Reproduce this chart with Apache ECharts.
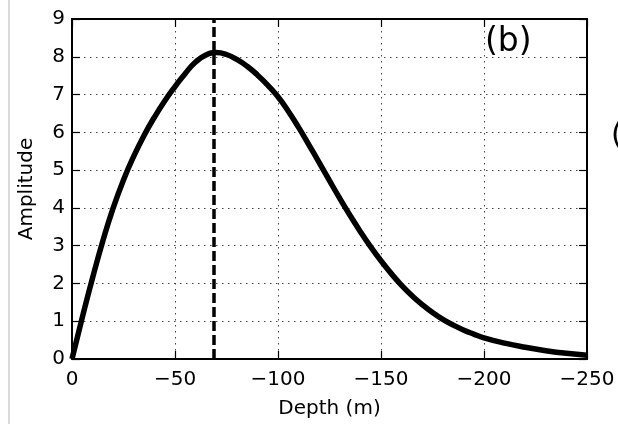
<!DOCTYPE html>
<html>
<head>
<meta charset="utf-8">
<script src="https://cdn.jsdelivr.net/npm/echarts@6/dist/echarts.min.js"></script>
<style>
html,body{margin:0;padding:0;background:#fff;}
#chart{width:618px;height:424px;}
</style>
</head>
<body>
<div id="chart"></div>
<script>
// Depth (m), negative downward
const depths = [0,-5,-10,-15,-20,-25,-30,-35,-40,-45,-50,-55,-60,-65,-70,-75,-80,-85,-90,-95,-100,-105,-110,-115,-120,-125,-130,-135,-140,-145,-150,-155,-160,-165,-170,-175,-180,-185,-190,-195,-200,-210,-220,-230,-240,-250];
const amplitudes = [0,1.1,2.15,3.13,4.0,4.74,5.37,5.92,6.4,6.83,7.21,7.56,7.86,8.05,8.11,8.06,7.93,7.75,7.52,7.25,6.94,6.56,6.13,5.67,5.2,4.72,4.25,3.8,3.37,2.97,2.6,2.26,1.95,1.68,1.44,1.23,1.05,0.9,0.77,0.66,0.56,0.42,0.31,0.22,0.15,0.1];
const peakDepth = -69;
const xTicks = [0,-50,-100,-150,-200,-250];
const yTicks = [0,1,2,3,4,5,6,7,8,9];
const panelLabel = '(b)';
const nextPanelLabel = '(c)';
const xName = 'Depth (m)';
const yName = 'Amplitude';

const seriesData = depths.map((d, i) => [d, amplitudes[i]]);
const fmt = v => String(v).replace('-', '\u2212');
const font = 'DejaVu Sans';
const grid = {left: 72, right: 31, top: 19, bottom: 61};
const dotted = {show: true, lineStyle: {color: '#444', width: 1, type: [1.5, 4.5]}};
const axLine = {show: true, onZero: false, lineStyle: {color: '#000', width: 2}};
const tickIn = {show: true, inside: true, length: 8, lineStyle: {color: '#000', width: 1.2}};

const chart = echarts.init(document.getElementById('chart'), null, {renderer: 'canvas'});
chart.setOption({
  animation: false,
  backgroundColor: '#fff',
  grid: grid,
  xAxis: [{
    type: 'value', min: -250, max: 0, interval: 50, inverse: true, position: 'bottom',
    name: xName, nameLocation: 'middle', nameGap: 40,
    nameTextStyle: {fontFamily: font, fontSize: 20, color: '#000'},
    axisLine: axLine, axisTick: tickIn, splitLine: dotted,
    axisLabel: {fontFamily: font, fontSize: 20, color: '#000', margin: 11, formatter: fmt}
  }, {
    type: 'value', min: -250, max: 0, interval: 50, inverse: true, position: 'top',
    axisLine: axLine, axisTick: tickIn, splitLine: {show: false}, axisLabel: {show: false}
  }],
  yAxis: [{
    type: 'value', min: 0, max: 9, interval: 1, position: 'left',
    name: yName, nameLocation: 'middle', nameGap: 35,
    nameTextStyle: {fontFamily: font, fontSize: 20, color: '#000'},
    axisLine: axLine, axisTick: tickIn, splitLine: dotted,
    axisLabel: {fontFamily: font, fontSize: 20, color: '#000', margin: 7}
  }, {
    type: 'value', min: 0, max: 9, interval: 1, position: 'right',
    axisLine: axLine, axisTick: tickIn, splitLine: {show: false}, axisLabel: {show: false}
  }],
  series: [{
    type: 'line', data: seriesData, smooth: 0.5, showSymbol: false,
    lineStyle: {color: '#000', width: 5.5}, z: 5,
    markLine: {
      silent: true, symbol: ['none', 'none'], label: {show: false},
      lineStyle: {color: '#000', width: 3.5, type: [10, 4]},
      data: [{xAxis: peakDepth}]
    }
  }],
  graphic: [
    {type: 'line', shape: {x1: 9, y1: 0, x2: 9, y2: 424}, style: {stroke: '#cfcfcf', lineWidth: 1.5}},
    {type: 'text', left: 485, top: 26, style: {text: panelLabel, font: '33px "DejaVu Sans"', fill: '#000'}},
    {type: 'text', left: 611, top: 121, style: {text: nextPanelLabel, font: '30px "DejaVu Sans"', fill: '#000'}}
  ]
});
</script>
</body>
</html>
